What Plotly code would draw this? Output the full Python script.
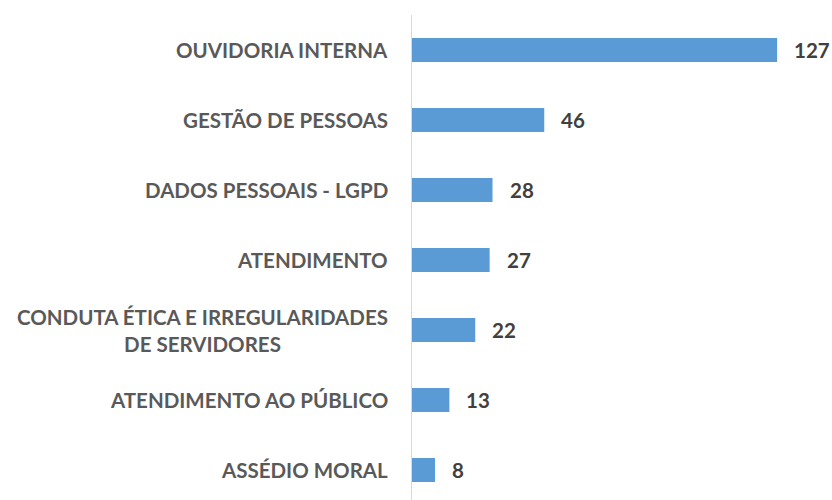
import plotly.graph_objects as go

categories = ["OUVIDORIA INTERNA", "GESTÃO DE PESSOAS", "DADOS PESSOAIS - LGPD", "ATENDIMENTO",
              "CONDUTA ÉTICA E IRREGULARIDADES<br>DE SERVIDORES", "ATENDIMENTO AO PÚBLICO", "ASSÉDIO MORAL"]
values = [127, 46, 28, 27, 22, 13, 8]

W, H = 832, 500
left = 412
right_px = 812
ppu = 2.875
xmax = (right_px - left) / ppu
top = 15
step = 70
n = len(categories)
ybottom = (n - 0.5) - (top + n * step - H) / step

fig = go.Figure()
fig.add_trace(go.Bar(
    x=values, y=list(range(n)), orientation="h",
    marker=dict(color="#5B9BD5", line=dict(width=0)),
    width=24 / step, hoverinfo="skip",
))

font = "Lato"
for i, (c, v) in enumerate(zip(categories, values)):
    fig.add_annotation(x=0, xref="paper", y=i, yref="y", text=c, showarrow=False,
                       xanchor="right", yanchor="middle", align="center", xshift=-22,
                       font=dict(family=font, size=20.5, color="#595959", weight="bold"))
    fig.add_annotation(x=v, xref="x", y=i, yref="y", text=str(v), showarrow=False,
                       xanchor="left", yanchor="middle", xshift=15,
                       font=dict(family=font, size=20.5, color="#404040", weight="bold"))

fig.update_layout(
    width=W, height=H,
    margin=dict(l=left, r=W - right_px, t=top, b=0),
    plot_bgcolor="white", paper_bgcolor="white",
    showlegend=False,
    xaxis=dict(range=[0, xmax], visible=False, fixedrange=True),
    yaxis=dict(range=[ybottom, -0.5], showticklabels=False, showgrid=False, zeroline=False,
               showline=True, linecolor="#D9D9D9", linewidth=1, ticks="", fixedrange=True),
)
fig.write_html("out.html", config={"displayModeBar": False, "staticPlot": True},
               post_script="document.body.style.margin='0';")
